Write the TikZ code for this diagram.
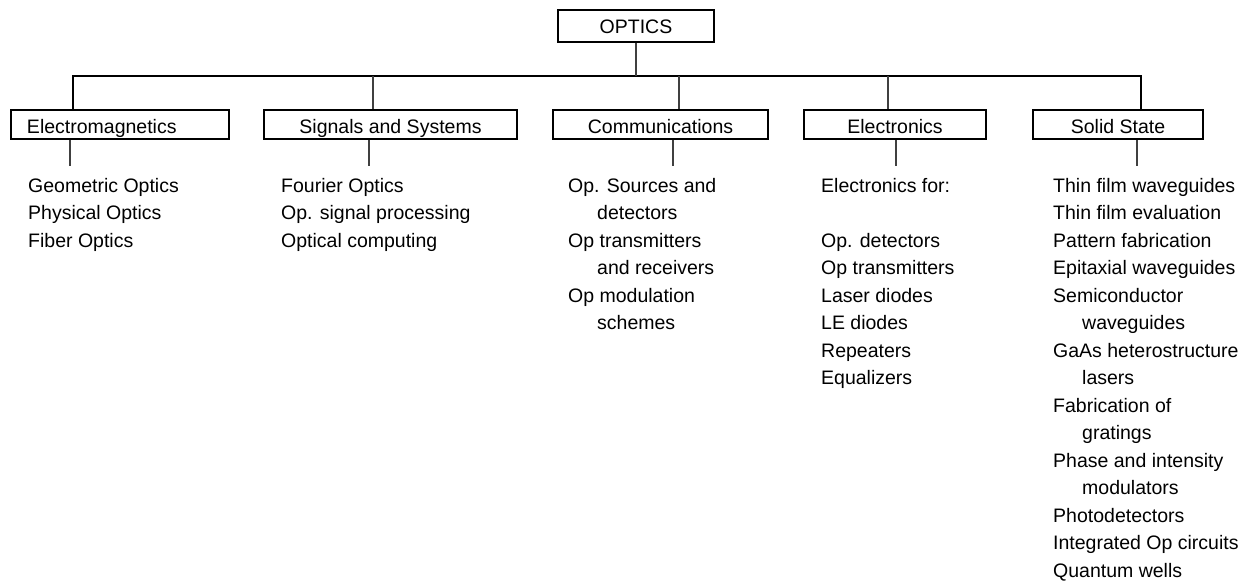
\documentclass[tikz,border=0pt]{standalone}
\usepackage{fontspec}
\setmainfont{Liberation Sans}
\begin{document}
\begin{tikzpicture}[x=1pt,y=-1pt,
  catbox/.style={draw=black,line width=2pt,minimum height=29pt,inner ysep=0pt,inner xsep=0pt,
     text height=18pt,text depth=0pt,font=\fontsize{19.5}{27.5}\selectfont},
  topbox/.style={catbox,minimum height=32pt,text height=14pt},
  item/.style={anchor=base west,inner sep=0pt,font=\fontsize{19.5}{27.5}\selectfont},
  bus/.style={line width=2pt,draw=black},
  thinline/.style={line width=1.2pt,draw=black!75}]
\fill[white] (0,0) rectangle (1241,581);
\useasboundingbox (0,0) rectangle (1241,581);

\node[topbox,minimum width=156pt] (optics) at (636,26) {OPTICS};

\node[catbox,text width=186pt,inner xsep=16pt,align=left] (em) at (120,124.5) {Electromagnetics};
\node[catbox,minimum width=253pt] (sig) at (390.5,124.5) {Signals and Systems};
\node[catbox,minimum width=215pt] (com) at (660.5,124.5) {Communications};
\node[catbox,minimum width=182pt] (ele) at (895,124.5) {Electronics};
\node[catbox,minimum width=170pt] (sol) at (1118,124.5) {Solid State};

% bus
\coordinate (busL) at (72.7,76);
\coordinate (busR) at (1141,76);
\coordinate (busO) at (636,76);
\draw[bus] (busL |- em.north) -- (busL) -- (busR) -- (busR |- sol.north);
\draw[thinline] (optics.south) -- (busO);
\coordinate (dS) at (373,76);
\coordinate (dC) at (679,76);
\coordinate (dE) at (888,76);
\draw[thinline] (dS) -- (dS |- sig.north);
\draw[thinline] (dC) -- (dC |- com.north);
\draw[thinline] (dE) -- (dE |- ele.north);

% lower drops
\coordinate (lEM) at (70,166);
\coordinate (lS) at (369,166);
\coordinate (lC) at (673,166);
\coordinate (lE) at (896,166);
\coordinate (lSS) at (1137,166);
\draw[thinline] (lEM |- em.south) -- (lEM);
\draw[thinline] (lS |- sig.south) -- (lS);
\draw[thinline] (lC |- com.south) -- (lC);
\draw[thinline] (lE |- ele.south) -- (lE);
\draw[thinline] (lSS |- sol.south) -- (lSS);

% lists
\foreach \n/\ind/\txt in {0/0/Geometric Optics,1/0/Physical Optics,2/0/Fiber Optics}
  \node[item] (em\n) at ({28+29*\ind},{192+27.5*\n}) {\txt};
\foreach \n/\ind/\txt in {0/0/Fourier Optics,1/0/Op. signal processing,2/0/Optical computing}
  \node[item] (sig\n) at ({281+29*\ind},{192+27.5*\n}) {\txt};
\foreach \n/\ind/\txt in {0/0/Op. Sources and,1/1/detectors,2/0/Op transmitters,3/1/and receivers,4/0/Op modulation,5/1/schemes}
  \node[item] (com\n) at ({568+29*\ind},{192+27.5*\n}) {\txt};
\foreach \n/\ind/\txt in {0/0/Electronics for:,2/0/Op. detectors,3/0/Op transmitters,4/0/Laser diodes,5/0/LE diodes,6/0/Repeaters,7/0/Equalizers}
  \node[item] (ele\n) at ({821+29*\ind},{192+27.5*\n}) {\txt};
\foreach \n/\ind/\txt in {0/0/Thin film waveguides,1/0/Thin film evaluation,2/0/Pattern fabrication,3/0/Epitaxial waveguides,4/0/Semiconductor,5/1/waveguides,6/0/GaAs heterostructure,7/1/lasers,8/0/Fabrication of,9/1/gratings,10/0/Phase and intensity,11/1/modulators,12/0/Photodetectors,13/0/Integrated Op circuits,14/0/Quantum wells}
  \node[item] (sol\n) at ({1053+29*\ind},{192+27.5*\n}) {\txt};
\end{tikzpicture}
\end{document}
